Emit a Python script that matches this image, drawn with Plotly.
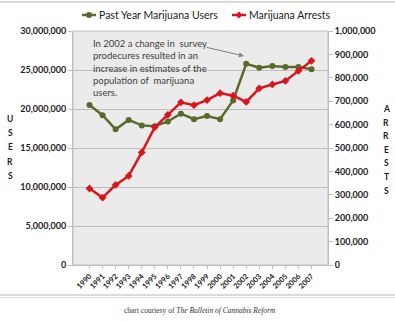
import plotly.graph_objects as go

years = [str(y) for y in range(1990, 2008)]
users = [20.5e6, 19.2e6, 17.4e6, 18.6e6, 17.9e6, 17.8e6, 18.4e6, 19.4e6, 18.7e6,
         19.1e6, 18.7e6, 21.1e6, 25.8e6, 25.3e6, 25.5e6, 25.4e6, 25.4e6, 25.1e6]
arrests = [326850, 287850, 342314, 380689, 481098, 588964, 641642, 695201, 682885,
           704812, 734497, 723627, 697082, 755186, 771605, 786545, 829625, 872720]

left_ticks = list(range(0, 30000001, 5000000))
right_ticks = list(range(0, 1000001, 100000))

GREEN = "#5a6a2a"
RED = "#d9141b"
FONT = "Lato"

# plot area in pixels: x 73..328, y 31..265
L, R, T, B = 73, 328, 31, 265
W, H = R - L, B - T


def px(x):
    return (x - L) / W


def py(y):
    return (B - y) / H


fig = go.Figure()
fig.add_trace(go.Scatter(x=years, y=users, name="Past Year Marijuana Users",
                         mode="lines+markers", line=dict(color=GREEN, width=2.5),
                         marker=dict(symbol="circle", size=6, color=GREEN), yaxis="y"))
fig.add_trace(go.Scatter(x=years, y=arrests, name="Marijuana Arrests",
                         mode="lines+markers", line=dict(color=RED, width=2.5),
                         marker=dict(symbol="diamond", size=6, color=RED), yaxis="y2"))

fig.update_layout(
    width=395, height=321,
    margin=dict(l=L, r=395 - R, t=T, b=321 - B, autoexpand=False),
    paper_bgcolor="white", plot_bgcolor="#ebebeb",
    font=dict(family=FONT, color="#222"),
    showlegend=False,
    xaxis=dict(type="category", tickangle=-45,
               tickfont=dict(size=7.5, family=FONT, color="#222", weight="bold"),
               showgrid=False, showline=True, linecolor="#bfbfbf", ticks="outside", ticklen=3,
               tickcolor="#bfbfbf", fixedrange=True),
    yaxis=dict(range=[0, 30000000], tickvals=left_ticks, tickformat=",",
               tickfont=dict(size=9, family=FONT, color="#222", weight="bold"),
               showgrid=True, gridcolor="#bdbdbd", gridwidth=1, zeroline=False,
               showline=True, linecolor="#bfbfbf", ticks="outside", ticklen=4, tickcolor="#bfbfbf"),
    yaxis2=dict(range=[0, 1000000], tickvals=right_ticks, tickformat=",", overlaying="y", side="right",
                tickfont=dict(size=9, family=FONT, color="#222", weight="bold"),
                showgrid=False, zeroline=False, showline=True, linecolor="#bfbfbf",
                ticks="outside", ticklen=4, tickcolor="#bfbfbf"),
)

# plot border
fig.add_shape(type="rect", xref="paper", yref="paper", x0=0, y0=0, x1=1, y1=1,
              line=dict(color="#bfbfbf", width=1))
# top and bottom frame lines
fig.add_shape(type="line", xref="paper", yref="paper", x0=px(0), x1=px(395), y0=py(2), y1=py(2),
              line=dict(color="#cfcfcf", width=1.5))
fig.add_shape(type="line", xref="paper", yref="paper", x0=px(0), x1=px(395), y0=py(295), y1=py(295),
              line=dict(color="#cfcfcf", width=1.5))
fig.add_shape(type="line", xref="paper", yref="paper", x0=px(0), x1=px(395), y0=py(297.5), y1=py(297.5),
              line=dict(color="#e0e0e0", width=1))

# manual legend
LEG_Y = 15
for (x0, color, label, sym) in [(82, GREEN, "Past Year Marijuana Users", "circle"),
                                (232, RED, "Marijuana Arrests", "diamond")]:
    fig.add_shape(type="line", xref="paper", yref="paper", x0=px(x0), x1=px(x0 + 14),
                  y0=py(LEG_Y), y1=py(LEG_Y), line=dict(color=color, width=2.5))
    cx = x0 + 7
    if sym == "circle":
        fig.add_shape(type="circle", xref="paper", yref="paper", x0=px(cx - 3), x1=px(cx + 3),
                      y0=py(LEG_Y + 3), y1=py(LEG_Y - 3), fillcolor=color, line=dict(color=color, width=0))
    else:
        fig.add_shape(type="path", xref="paper", yref="paper",
                      path=f"M {px(cx-3.5)} {py(LEG_Y)} L {px(cx)} {py(LEG_Y-3.5)} L {px(cx+3.5)} {py(LEG_Y)} L {px(cx)} {py(LEG_Y+3.5)} Z",
                      fillcolor=color, line=dict(color=color, width=0))
    fig.add_annotation(xref="paper", yref="paper", x=px(x0 + 15), y=py(LEG_Y), xanchor="left",
                       yanchor="middle", text=label, showarrow=False,
                       font=dict(size=10.5, color="#222", family=FONT))

# annotation text
fig.add_annotation(xref="paper", yref="paper", x=px(91), y=py(36), xanchor="left", yanchor="top",
                   text="In 2002 a change in  survey<br>prodecures resulted in an<br>increase in estimates of the<br>population of  marijuana<br>users.",
                   showarrow=False, align="left", font=dict(size=9.5, color="#404040", family=FONT))
fig.add_annotation(xref="paper", yref="paper", x=px(244), y=py(56), ax=-39, ay=-9, text="",
                   showarrow=True, arrowhead=2, arrowsize=1, arrowwidth=1, arrowcolor="#808080")

# axis titles (stacked letters)
for i, ch in enumerate("USERS"):
    fig.add_annotation(xref="paper", yref="paper", x=px(10), y=py(119 + i * 14.2),
                       xanchor="center", yanchor="middle", text=ch, showarrow=False,
                       font=dict(size=8.5, color="#222", family=FONT, weight="bold"))
for i, ch in enumerate("ARRESTS"):
    fig.add_annotation(xref="paper", yref="paper", x=px(386), y=py(109 + i * 13.6),
                       xanchor="center", yanchor="middle", text=ch, showarrow=False,
                       font=dict(size=8.5, color="#222", family=FONT, weight="bold"))

# caption
fig.add_annotation(xref="paper", yref="paper", x=px(200), y=py(310), xanchor="center", yanchor="middle",
                   text="chart courtesy of <i>The Bulletin of Cannabis Reform</i>", showarrow=False,
                   font=dict(size=7.5, color="#333", family="Liberation Serif"))

fig.write_html("out.html")
